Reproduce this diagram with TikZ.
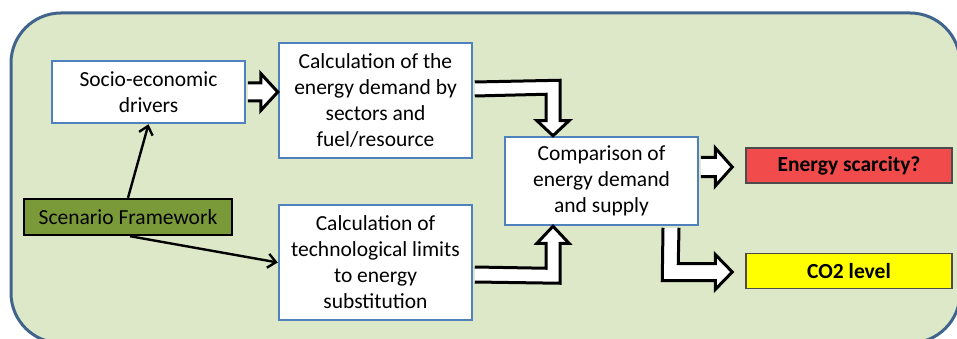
\documentclass[tikz,border=0pt]{standalone}
\usepackage{fontspec}
\setmainfont{Carlito}
\usetikzlibrary{calc,arrows.meta}
\definecolor{framefill}{HTML}{DDE8C9}
\definecolor{frameline}{HTML}{41648C}
\definecolor{boxline}{HTML}{4F81BD}
\definecolor{scenfill}{HTML}{7A9A3A}
\definecolor{redfill}{HTML}{F24B4B}
\definecolor{yelfill}{HTML}{FFFF00}
\tikzset{
  txt/.style={font=\fontsize{21.5}{26}\selectfont, align=center, inner sep=0pt},
  bluebox/.style={txt, draw=boxline, line width=2.5pt, fill=white, minimum width=193pt},
  resbox/.style={txt, font=\bfseries\fontsize{21.5}{26}\selectfont, draw=black!70, line width=1.5pt, minimum width=206pt, minimum height=35pt},
  blockarr/.style={draw=black, line width=3pt, fill=white, line join=miter},
  thinarr/.style={draw=black, line width=2.4pt, -{Straight Barb[length=8pt,width=14pt,line width=2.4pt]}}
}
\begin{document}
\begin{tikzpicture}[x=1pt,y=-1pt]
\useasboundingbox (0,0) rectangle (957,339);
\begin{scope}
\clip (0,0) rectangle (957,339);
\draw[draw=frameline, line width=3pt, fill=framefill, rounded corners=50pt] (11,13) rectangle (960,343);
\end{scope}
% nodes
\node[bluebox, minimum height=62pt] (soc) at (148.5,92) {Socio-economic\\drivers};
\node[bluebox, minimum height=115pt] (dem) at (375.5,100.5) {Calculation of the\\energy demand by\\sectors and\\fuel/resource};
\node[txt, draw=black, line width=2.4pt, fill=scenfill, minimum width=208pt, minimum height=36pt] (scen) at (128,217) {Scenario Framework};
\node[bluebox, minimum height=115pt] (tech) at (375.5,262.5) {Calculation of\\technological limits\\to energy\\substitution};
\node[bluebox, minimum height=88pt] (cmp) at (601.5,181) {Comparison of\\energy demand\\and supply};
\node[resbox, fill=redfill] (sca) at (849,165.5) {Energy scarcity?};
\node[resbox, fill=yelfill] (co2) at (849,271) {CO2 level};
% helper tips
\coordinate (t1) at (soc.east -| dem.west);
\coordinate (t2) at ($(cmp.north)+(-48.5,0)$);
\coordinate (t3) at ($(cmp.south)+(-48.5,0)$);
\coordinate (t4) at ($(sca.west)+(-13,1.5)$);
\coordinate (b4) at (t4 -| cmp.east);
\coordinate (t5) at ($(co2.west)+(-13,1)$);
% block arrows
\draw[blockarr] ($(soc.east)+(1.5,-9)$) -- ($(t1)+(-17,-9)$) -- ($(t1)+(-17,-18.5)$) -- (t1) -- ($(t1)+(-17,18.5)$) -- ($(t1)+(-17,9)$) -- ($(soc.east)+(1.5,9)$);
\draw[blockarr] ($(dem.east)+(1.5,-18.5)$) -- ($(t2)+(7,-55.5)$) -- ($(t2)+(7,-15)$) -- ($(t2)+(16,-15)$) -- (t2) -- ($(t2)+(-16,-15)$) -- ($(t2)+(-7,-15)$) -- ($(t2)+(-7,-41.5)$) -- ($(dem.east)+(1.5,-4.5)$);
\draw[blockarr] ($(tech.east)+(1.5,19.5)$) -- ($(t3)+(7,57)$) -- ($(t3)+(7,17)$) -- ($(t3)+(16,17)$) -- (t3) -- ($(t3)+(-16,17)$) -- ($(t3)+(-7,17)$) -- ($(t3)+(-7,42)$) -- ($(tech.east)+(1.5,4.5)$);
\draw[blockarr] ($(b4)+(1.5,-9.5)$) -- ($(t4)+(-17,-9.5)$) -- ($(t4)+(-17,-19)$) -- (t4) -- ($(t4)+(-17,19)$) -- ($(t4)+(-17,9.5)$) -- ($(b4)+(1.5,9.5)$);
\draw[blockarr] ($(cmp.south)+(61.5,1.5)$) -- ($(t5)+(-70,8.5)$) -- ($(t5)+(-17,8.5)$) -- ($(t5)+(-17,17.5)$) -- (t5) -- ($(t5)+(-17,-17.5)$) -- ($(t5)+(-17,-8.5)$) -- ($(t5)+(-54,-8.5)$) -- ($(cmp.south)+(77.5,1.5)$);
% thin arrows
\draw[thinarr] (scen.north) -- (soc.south);
\draw[thinarr] ($(scen.south)+(2,0)$) -- (tech.west);
\end{tikzpicture}
\end{document}
